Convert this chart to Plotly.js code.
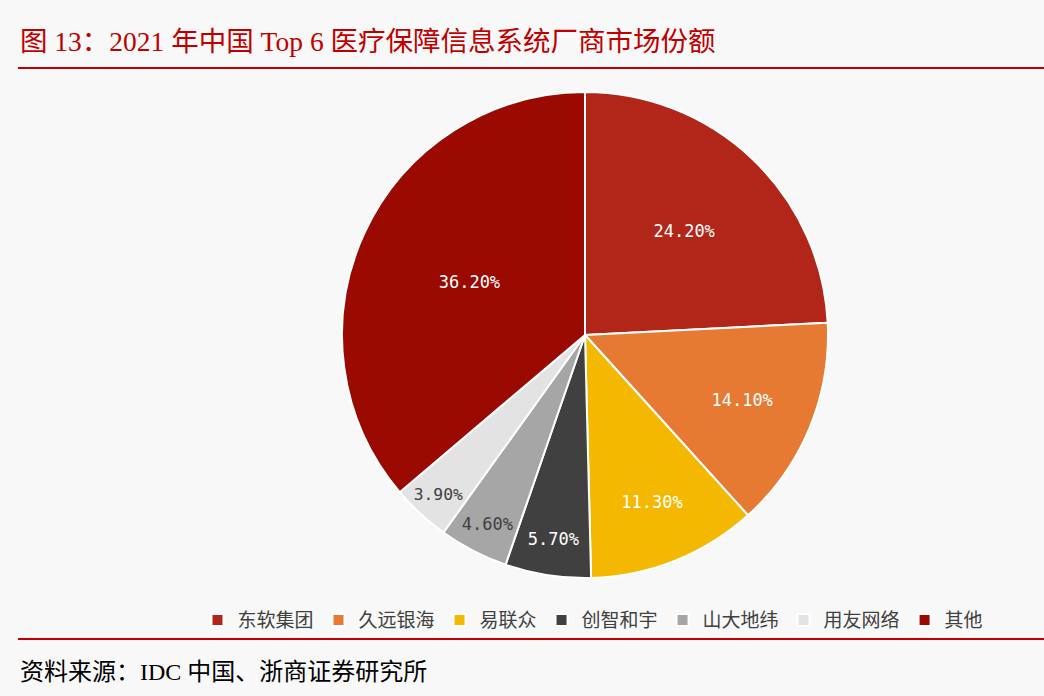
<!DOCTYPE html>
<html>
<head>
<meta charset="utf-8">
<script src="https://cdn.plot.ly/plotly-3.0.1.min.js"></script>
<style>
html,body{margin:0;padding:0;background:#f8f8f8;}
#chart{width:1044px;height:696px;}
</style>
</head>
<body>
<div id="chart"></div>
<script>
const labels = ['东软集团','久远银海','易联众','创智和宇','山大地纬','用友网络','其他'];
const shares = [24.2, 14.1, 11.3, 5.7, 4.6, 3.9, 36.2];
const colors = ['#B2261A','#E67A33','#F5B800','#404040','#A6A6A6','#E3E3E3','#9A0A00'];
const textColors = ['#ffffff','#ffffff','#ffffff','#ffffff','#404040','#404040','#ffffff'];

const titleText = '图 13：2021 年中国 Top 6 医疗保障信息系统厂商市场份额';
const sourceText = '资料来源：IDC 中国、浙商证券研究所';

const trace = {
  type: 'pie',
  labels: labels,
  values: shares,
  sort: false,
  direction: 'clockwise',
  rotation: 0,
  marker: {colors: colors, line: {color: '#ffffff', width: 2}},
  texttemplate: '%{value:.2f}%',
  textposition: 'inside',
  insidetextorientation: 'horizontal',
  textfont: {family: 'DejaVu Sans Mono, monospace', size: 17, color: textColors},
  hoverinfo: 'label+percent',
  domain: {x: [0.3276, 0.7931], y: [0.1695, 0.8678]}
};

const layout = {
  width: 1044,
  height: 696,
  margin: {l: 0, r: 0, t: 0, b: 0},
  paper_bgcolor: '#f8f8f8',
  plot_bgcolor: '#f8f8f8',
  showlegend: true,
  legend: {
    orientation: 'h',
    x: 0.568, xanchor: 'center',
    y: 0.109, yanchor: 'middle',
    font: {family: 'Noto Sans CJK SC, sans-serif', size: 19, color: '#404040'},
    itemwidth: 30,
    tracegroupgap: 0,
    bgcolor: 'rgba(0,0,0,0)'
  },
  shapes: [
    {type: 'line', xref: 'paper', yref: 'paper', x0: 18/1044, x1: 1, y0: 1 - 68/696, y1: 1 - 68/696, line: {color: '#C00000', width: 2}},
    {type: 'line', xref: 'paper', yref: 'paper', x0: 18/1044, x1: 1, y0: 1 - 639/696, y1: 1 - 639/696, line: {color: '#C00000', width: 2}}
  ],
  annotations: [
    {xref: 'paper', yref: 'paper', x: 18/1044, y: 1 - 41/696, xanchor: 'left', yanchor: 'middle', showarrow: false,
     text: titleText, font: {family: 'Liberation Serif, Noto Sans CJK SC, serif', size: 27.5, color: '#C00000'}},
    {xref: 'paper', yref: 'paper', x: 18/1044, y: 1 - 672/696, xanchor: 'left', yanchor: 'middle', showarrow: false,
     text: sourceText, font: {family: 'Liberation Serif, Noto Sans CJK SC, serif', size: 24, color: '#000000'}}
  ]
};

Plotly.newPlot('chart', [trace], layout, {displayModeBar: false, staticPlot: true});
</script>
</body>
</html>
